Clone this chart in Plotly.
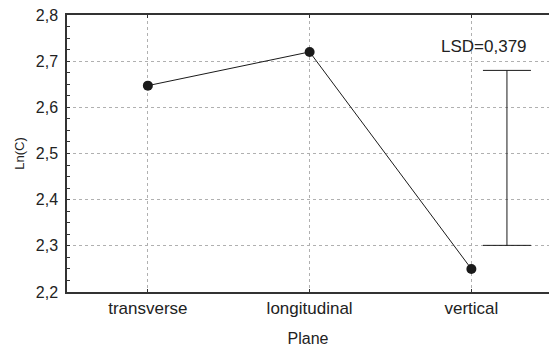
import plotly.graph_objects as go

categories = ["transverse", "longitudinal", "vertical"]
means = [2.647, 2.720, 2.250]
lsd_value = 0.379
lsd_low = 2.301
lsd_label = "LSD=0,379"
lsd_x = 2.22
y_ticks = [2.2, 2.3, 2.4, 2.5, 2.6, 2.7, 2.8]

x_idx = list(range(len(categories)))

fig = go.Figure()
fig.add_trace(go.Scatter(
    x=x_idx, y=means, mode="lines+markers",
    line=dict(color="#1a1a1a", width=1),
    marker=dict(color="#1a1a1a", size=10),
    showlegend=False, hoverinfo="skip",
))
fig.add_trace(go.Scatter(
    x=[lsd_x], y=[lsd_low + lsd_value / 2], mode="markers",
    marker=dict(size=1, color="rgba(0,0,0,0)"),
    error_y=dict(type="constant", value=lsd_value / 2, color="#1a1a1a",
                 thickness=1, width=24),
    showlegend=False, hoverinfo="skip",
))
fig.add_annotation(x=lsd_x - 0.14, y=2.731, text=lsd_label, showarrow=False,
                   font=dict(size=17, color="#222"), xanchor="center", yanchor="middle")

font_family = "Arial, Liberation Sans, sans-serif"
fig.update_layout(
    width=549, height=347,
    margin=dict(l=67, r=0, t=15, b=55),
    paper_bgcolor="white", plot_bgcolor="white",
    separators=", ",
    font=dict(family=font_family, color="#222"),
    xaxis=dict(
        range=[-0.5, 2.48], tickvals=x_idx, ticktext=categories,
        showgrid=True, gridcolor="#b0b0b0", griddash="dot", gridwidth=1,
        showline=True, linecolor="#333", linewidth=1.5, mirror="ticks",
        ticks="inside", ticklen=3, tickcolor="#333",
        tickfont=dict(size=17, color="#222"),
        title=dict(text="Plane", font=dict(size=16, color="#222"), standoff=16),
        zeroline=False,
    ),
    yaxis=dict(
        range=[2.2, 2.8], tickvals=y_ticks, tickformat=".1f",
        showgrid=True, gridcolor="#b0b0b0", griddash="dot", gridwidth=1,
        showline=True, linecolor="#333", linewidth=1.5,
        ticks="inside", ticklen=3, tickcolor="#333",
        minor=dict(ticks="inside", ticklen=3, dtick=0.025, tick0=2.2, tickcolor="#333", showgrid=False),
        tickfont=dict(size=16, color="#222"),
        ticklabelstandoff=4,
        title=dict(text="Ln(C)", font=dict(size=13, color="#222"), standoff=8),
        zeroline=False,
    ),
)

fig.write_html("out.html")
